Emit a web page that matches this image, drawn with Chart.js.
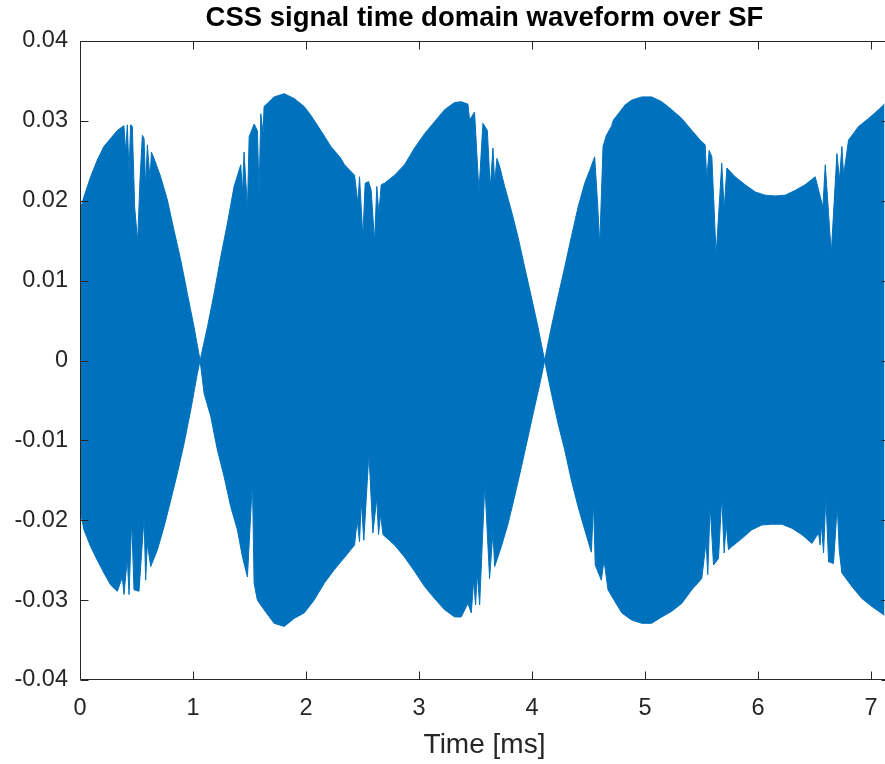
<!DOCTYPE html>
<html>
<head>
<meta charset="utf-8">
<title>CSS signal time domain waveform over SF</title>
<script src="https://cdn.jsdelivr.net/npm/chart.js@4.4.1/dist/chart.umd.min.js"></script>
<style>
  html, body { margin: 0; padding: 0; background: #fff; overflow: hidden; }
  #wrap { width: 900px; height: 764px; }
</style>
</head>
<body>
<div id="wrap"><canvas id="waveChart" width="900" height="764"></canvas></div>
<script>
// envelope of the received CSS signal (upper / lower peaks), time in ms
const upperTime = [0, 0.035, 0.094, 0.153, 0.212, 0.271, 0.330, 0.389, 0.404, 0.419, 0.434, 0.448, 0.463, 0.484, 0.510, 0.531, 0.552, 0.567, 0.581, 0.596, 0.620, 0.632, 0.655, 0.714, 0.773, 0.832, 0.891, 0.950, 1.009, 1.063, 1.128, 1.187, 1.246, 1.305, 1.364, 1.423, 1.438, 1.452, 1.482, 1.497, 1.541, 1.570, 1.585, 1.600, 1.621, 1.629, 1.659, 1.718, 1.807, 1.895, 1.984, 2.043, 2.131, 2.220, 2.309, 2.341, 2.430, 2.459, 2.474, 2.503, 2.524, 2.554, 2.577, 2.607, 2.627, 2.645, 2.666, 2.695, 2.784, 2.872, 2.961, 3.050, 3.138, 3.227, 3.315, 3.374, 3.433, 3.448, 3.492, 3.531, 3.566, 3.605, 3.631, 3.655, 3.670, 3.690, 3.714, 3.758, 3.817, 3.876, 3.935, 3.994, 4.053, 4.112, 4.172, 4.231, 4.290, 4.349, 4.408, 4.467, 4.511, 4.555, 4.579, 4.600, 4.629, 4.659, 4.703, 4.721, 4.765, 4.824, 4.883, 4.972, 5.060, 5.149, 5.237, 5.326, 5.415, 5.488, 5.533, 5.547, 5.568, 5.592, 5.630, 5.680, 5.701, 5.725, 5.798, 5.887, 5.976, 6.064, 6.153, 6.241, 6.330, 6.418, 6.507, 6.575, 6.596, 6.649, 6.699, 6.722, 6.743, 6.758, 6.802, 6.891, 6.979, 7.068, 7.120];
const upperAmp = [0.0188, 0.0205, 0.0230, 0.0251, 0.0268, 0.0278, 0.0288, 0.0294, 0.0261, 0.0295, 0.0234, 0.0295, 0.0293, 0.0192, 0.0149, 0.0226, 0.0282, 0.0278, 0.0216, 0.0270, 0.0226, 0.0261, 0.0253, 0.0230, 0.0201, 0.0163, 0.0126, 0.0084, 0.0042, 0, 0.0042, 0.0084, 0.0130, 0.0172, 0.0218, 0.0245, 0.0209, 0.0261, 0.0190, 0.0280, 0.0296, 0.0288, 0.0209, 0.0309, 0.0284, 0.0318, 0.0322, 0.0330, 0.0334, 0.0328, 0.0318, 0.0307, 0.0288, 0.0268, 0.0253, 0.0245, 0.0232, 0.0197, 0.0230, 0.0155, 0.0222, 0.0224, 0.0213, 0.0149, 0.0218, 0.0184, 0.0220, 0.0222, 0.0232, 0.0245, 0.0266, 0.0284, 0.0299, 0.0314, 0.0323, 0.0324, 0.0321, 0.0301, 0.0311, 0.0211, 0.0297, 0.0288, 0.0216, 0.0266, 0.0222, 0.0253, 0.0243, 0.0218, 0.0188, 0.0155, 0.0117, 0.0080, 0.0042, 0, 0.0042, 0.0080, 0.0117, 0.0155, 0.0192, 0.0222, 0.0238, 0.0255, 0.0201, 0.0145, 0.0268, 0.0282, 0.0293, 0.0301, 0.0309, 0.0320, 0.0326, 0.0330, 0.0330, 0.0324, 0.0314, 0.0303, 0.0288, 0.0276, 0.0270, 0.0226, 0.0263, 0.0255, 0.0132, 0.0247, 0.0188, 0.0241, 0.0230, 0.0220, 0.0211, 0.0207, 0.0206, 0.0207, 0.0213, 0.0220, 0.0230, 0.0192, 0.0245, 0.0134, 0.0259, 0.0226, 0.0268, 0.0232, 0.0276, 0.0293, 0.0303, 0.0314, 0.0321];

const lowerTime = [0, 0.035, 0.094, 0.153, 0.212, 0.271, 0.330, 0.375, 0.389, 0.419, 0.434, 0.457, 0.478, 0.522, 0.567, 0.581, 0.596, 0.626, 0.685, 0.744, 0.803, 0.862, 0.921, 0.980, 1.039, 1.063, 1.098, 1.157, 1.216, 1.275, 1.334, 1.393, 1.438, 1.452, 1.482, 1.526, 1.541, 1.570, 1.629, 1.718, 1.807, 1.895, 1.984, 2.072, 2.161, 2.250, 2.362, 2.430, 2.453, 2.474, 2.489, 2.512, 2.557, 2.592, 2.627, 2.642, 2.660, 2.682, 2.784, 2.872, 2.961, 3.050, 3.138, 3.227, 3.315, 3.374, 3.433, 3.463, 3.484, 3.501, 3.516, 3.537, 3.583, 3.625, 3.655, 3.670, 3.729, 3.789, 3.847, 3.907, 3.966, 4.024, 4.084, 4.112, 4.172, 4.231, 4.290, 4.349, 4.408, 4.467, 4.526, 4.545, 4.560, 4.614, 4.638, 4.673, 4.727, 4.795, 4.883, 4.972, 5.060, 5.149, 5.237, 5.326, 5.415, 5.503, 5.541, 5.556, 5.577, 5.607, 5.651, 5.680, 5.701, 5.719, 5.739, 5.769, 5.857, 5.946, 6.034, 6.123, 6.212, 6.300, 6.389, 6.478, 6.536, 6.551, 6.560, 6.581, 6.601, 6.625, 6.669, 6.702, 6.719, 6.743, 6.832, 6.920, 7.009, 7.120];
const lowerAmp = [-0.0187, -0.0212, -0.0233, -0.0250, -0.0266, -0.0281, -0.0289, -0.0271, -0.0293, -0.0248, -0.0293, -0.0200, -0.0287, -0.0289, -0.0196, -0.0275, -0.0229, -0.0258, -0.0237, -0.0208, -0.0175, -0.0141, -0.0104, -0.0062, -0.0016, 0, -0.0041, -0.0070, -0.0112, -0.0145, -0.0183, -0.0212, -0.0246, -0.0254, -0.0271, -0.0150, -0.0279, -0.0300, -0.0312, -0.0329, -0.0333, -0.0323, -0.0316, -0.0300, -0.0279, -0.0262, -0.0243, -0.0231, -0.0200, -0.0227, -0.0175, -0.0225, -0.0116, -0.0216, -0.0172, -0.0218, -0.0193, -0.0218, -0.0231, -0.0246, -0.0264, -0.0283, -0.0298, -0.0312, -0.0321, -0.0321, -0.0304, -0.0316, -0.0275, -0.0306, -0.0266, -0.0306, -0.0154, -0.0273, -0.0214, -0.0258, -0.0233, -0.0204, -0.0170, -0.0133, -0.0095, -0.0058, -0.0020, 0, -0.0041, -0.0079, -0.0112, -0.0150, -0.0183, -0.0212, -0.0240, -0.0177, -0.0256, -0.0275, -0.0250, -0.0287, -0.0300, -0.0316, -0.0325, -0.0329, -0.0329, -0.0321, -0.0314, -0.0304, -0.0287, -0.0273, -0.0227, -0.0268, -0.0181, -0.0256, -0.0248, -0.0170, -0.0241, -0.0204, -0.0237, -0.0233, -0.0223, -0.0212, -0.0206, -0.0205, -0.0205, -0.0210, -0.0218, -0.0229, -0.0216, -0.0231, -0.0202, -0.0241, -0.0170, -0.0252, -0.0254, -0.0181, -0.0237, -0.0266, -0.0283, -0.0298, -0.0308, -0.0319];

const xTicks = [0, 1, 2, 3, 4, 5, 6, 7];
const xTickLabels = ["0", "1", "2", "3", "4", "5", "6", "7"];
const yTicks = [-0.04, -0.03, -0.02, -0.01, 0, 0.01, 0.02, 0.03, 0.04];
const yTickLabels = ["-0.04", "-0.03", "-0.02", "-0.01", "0", "0.01", "0.02", "0.03", "0.04"];

const xMax = 7.16;
const chartTitle = "CSS signal time domain waveform over SF";
const xTitle = "Time [ms]";

const fontFamily = "'Liberation Sans', Arial, Helvetica, sans-serif";
const axisColor = "#262626";
const waveColor = "#0072BD";

const upperPoints = upperTime.map((t, i) => ({ x: t, y: upperAmp[i] }));
const lowerPoints = lowerTime.map((t, i) => ({ x: t, y: lowerAmp[i] }));

// matlab-style box with inward ticks on all four sides
const axesBox = {
  id: "axesBox",
  afterDatasetsDraw(chart) {
    const { ctx, chartArea } = chart;
    const xs = chart.scales.x;
    const ys = chart.scales.y;
    const tick = 8;
    const l = Math.round(chartArea.left) + 0.5;
    const r = Math.round(chartArea.right) + 0.5;
    const t = Math.round(chartArea.top) + 0.5;
    const b = Math.round(chartArea.bottom) - 0.5;

    ctx.save();
    ctx.strokeStyle = axisColor;
    ctx.lineWidth = 1;
    ctx.beginPath();
    ctx.rect(l, t, r - l, b - t);

    xTicks.forEach((v) => {
      const px = Math.round(xs.getPixelForValue(v)) + 0.5;
      ctx.moveTo(px, b);
      ctx.lineTo(px, b - tick);
      ctx.moveTo(px, t);
      ctx.lineTo(px, t + tick);
    });
    yTicks.forEach((v) => {
      const py = Math.round(ys.getPixelForValue(v)) + 0.5;
      ctx.moveTo(l, py);
      ctx.lineTo(l + tick, py);
      ctx.moveTo(r, py);
      ctx.lineTo(r - tick, py);
    });
    ctx.stroke();
    ctx.restore();
  },
};

function waveDataset(points, fill) {
  return {
    data: points,
    borderColor: waveColor,
    backgroundColor: waveColor,
    borderWidth: 1,
    pointRadius: 0,
    tension: 0,
    fill: fill,
  };
}

new Chart(document.getElementById("waveChart"), {
  type: "line",
  data: {
    // upper envelope filled down to the lower one
    datasets: [waveDataset(upperPoints, "+1"), waveDataset(lowerPoints, false)],
  },
  options: {
    responsive: false,
    animation: false,
    devicePixelRatio: 1,
    layout: { padding: { top: 0, right: 11, bottom: 0, left: 0 } },
    plugins: {
      legend: { display: false },
      tooltip: { enabled: false },
      title: {
        display: true,
        fullSize: false,
        text: chartTitle,
        color: "#000",
        font: { family: fontFamily, size: 27.5, weight: "bold" },
        padding: { top: 2, bottom: 6 },
      },
    },
    scales: {
      x: {
        type: "linear",
        min: 0,
        max: xMax,
        afterBuildTicks: (s) => {
          s.ticks = xTicks.map((v) => ({ value: v }));
        },
        afterFit: (s) => {
          s.height = 84;
        },
        grid: { display: false, drawTicks: false },
        border: { display: false },
        ticks: {
          color: axisColor,
          font: { family: fontFamily, size: 23.5 },
          padding: 14,
          maxRotation: 0,
          autoSkip: false,
          callback: (v, i) => xTickLabels[i],
        },
        title: {
          display: true,
          text: xTitle,
          color: axisColor,
          font: { family: fontFamily, size: 28 },
          padding: { top: 0, bottom: 2.2 },
        },
      },
      y: {
        type: "linear",
        min: -0.04,
        max: 0.04,
        afterBuildTicks: (s) => {
          s.ticks = yTicks.map((v) => ({ value: v }));
        },
        afterFit: (s) => {
          s.width = 80;
        },
        grid: { display: false, drawTicks: false },
        border: { display: false },
        ticks: {
          color: axisColor,
          font: { family: fontFamily, size: 23.5 },
          padding: 12,
          autoSkip: false,
          callback: (v, i) => yTickLabels[i],
        },
      },
    },
  },
  plugins: [axesBox],
});
</script>
</body>
</html>
